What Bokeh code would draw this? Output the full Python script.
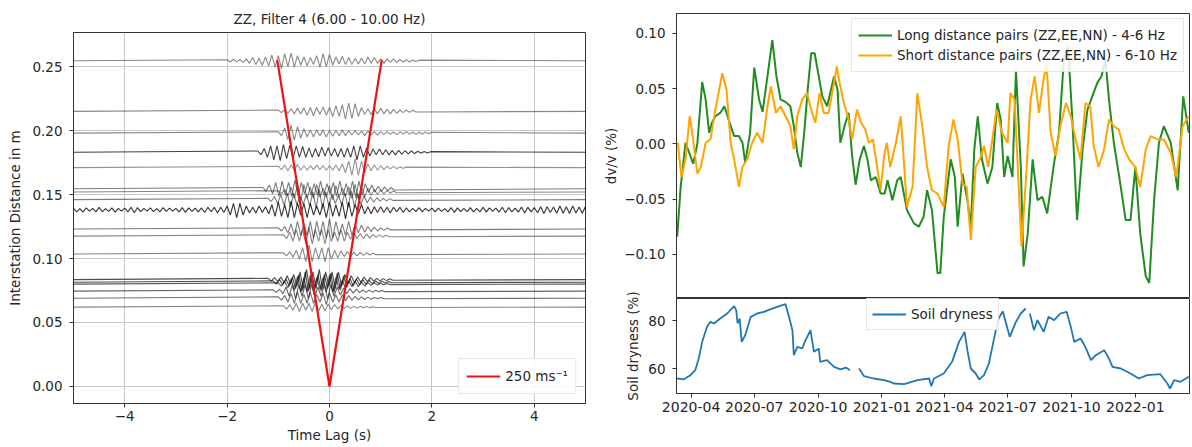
import numpy as np
import pandas as pd
from bokeh.plotting import figure
from bokeh.layouts import row, column
from bokeh.models import (ColumnDataSource, Range1d, FixedTicker, CustomJSTickFormatter,
                          DatetimeTickFormatter, Legend, LegendItem)
from bokeh.embed import file_html
from bokeh.resources import INLINE

FONT = "DejaVu Sans"

# ---------------- Left panel: cross-correlation traces ----------------
TITLE_LEFT = "ZZ, Filter 4 (6.00 - 10.00 Hz)"
X_LABEL_LEFT = "Time Lag (s)"
Y_LABEL_LEFT = "Interstation Distance in m"
TIME_WINDOW = [-5.0, 5.0]
SAMPLE_DT = 0.0625          # s between samples
AMP_UNIT = 0.001            # sample amplitude unit (m)
X_TICKS_LEFT = [-4, -2, 0, 2, 4]
Y_TICKS_LEFT = [0.0, 0.05, 0.10, 0.15, 0.20, 0.25]

TRACE_DIST = [0.2545, 0.215, 0.198, 0.183, 0.171, 0.1545, 0.152, 0.146, 0.138,
              0.123, 0.1175, 0.1035, 0.0835, 0.0815, 0.080, 0.0745, 0.069, 0.062]
TRACE_START = [-2.0, -1.0, -1.0, -1.4, -1.0, -1.3, -1.0, -1.2, -5.0,
               -1.0, -0.9, -0.9, -1.2, -1.1, -1.0, -1.1, -1.0, -0.9]

TR_A = [0.8, -1, 1.2, -0.9, 1, -1.2, 1.5, -2, 2.5, -3, 2, -3.5, 3, -4, 4.5, -5, 4, -6, 5.5, -4.5,
        6, -5, 4, -3.5, 3, -4, 2.5, -3, 4, -5, 5.5, -4.5, 5, -3.5, 3, -2.5, 3.5, -3, 2.5, -3,
        2, -2.5, 2, -2.5, 3, -2, 2.5, -2, 1.5, -2, 1.5, -1, 1.5, -1.2, 1, -1, 0.8, -1, 0.6, -0.5, 0.5]
TR_B = [1, -1, 1.5, -1.5, 2, -2, 2.5, -2, 2.5, -3, 3, -3.5, 3, -2.5, 3.5, -3, 3, -4, 4.5, -4,
        5, -6, 6.5, -5.5, 6, -4, 3, -2.5, 2, -2.5, 2, -2, 2.5, -2, 1.5, -2, 1.5, -1.5, 1, -1,
        1, -0.8, 0.8, -0.5]
TR_C = [1, -2, 4, -5, 6, -5.5, 5, -4, 3.5, -3, 2.5, -3, 2.5, -2, 2.5, -3, 2, -2.5, 2, -2,
        2.5, -2, 2, -1.5, 2, -1.5, 1.5, -2, 1.5, -1.5, 1.2, -1.5, 1.2, -1, 1.2, -1, 1, -1.2, 1, -0.8,
        1, -0.8, 0.8, -1, 0.8, -0.7, 0.8, -0.6, 0.6]
TR_D = [1, -2, 3, -4, 5, -6, 5, -6.5, 6, -5, 5.5, -4.5, 5, -4, 4.5, -4, 3.5, -4, 3, -3.5,
        4, -3, 3.5, -3, 3, -3.5, 3, -4, 3.5, -4, 5, -6, 5, -4, 3.5, -3, 2.5, -2, 2.5, -2,
        2, -2, 1.5, -2, 1.5, -1.5, 1.2, -1.2, 1, -1, 0.8, -0.8, 0.6, -0.5, 0.5]
TR_E = [1, -1.5, 2, -2.5, 2, -2, 2.5, -2, 1.5, -2, 1.5, -1.5, 2, -1.5, 1.5, -2, 1.5, -2, 2, -2.5,
        3, -4, 5, -6, 7, -6, 5, -4, 3, -2.5, 2, -2, 1.5, -1.5, 1.2, -1, 1, -0.8, 0.6, -0.5, 0.4]
TR_F = [1, -2, 3, -4, 5, -6, 6, -5, 5, -6, 7, -6, 5, -4, 5, -5, 4, -5, 6, -5,
        4, -4, 5, -6, 6, -5, 4, -5, 6, -7, 6, -5, 4, -3, 3, -2.5, 2, -2, 1.5, -1.5, 1, -1]
TR_G = [1, -1.5, 2, -3, 4, -5, 6, -7, 6, -5, 4, -5, 6, -4, 3, -4, 5, -6, 5, -4,
        3, -3, 4, -5, 6, -6, 5, -4, 3, -2.5, 2, -2, 1.5, -1.5, 1, -1, 0.8, -0.6]
TR_H = [1, -1.5, 2.5, -3, 4, -4.5, 5, -6, 5, -4, 3, -3.5, 4, -5, 6, -7, 8, -7, 6, -5,
        4, -3, 3, -4, 5, -6, 7, -6, 5, -4, 3, -2.5, 2, -2, 1.5, -1.2, 1, -1, 0.8, -0.6]
TR_I = [1.2, -1.5, 1, -1.8, 1.5, -1, 1.2, -1.6, 2, -1.5, 1, -1.2, 1.5, -1.8, 1.2, -1, 1.4, -1.6, 2, -2.2,
        1.8, -1.4, 1.2, -1, 1.5, -1.3, 1, -1.6, 1.8, -1.2, 1.4, -1, 1.2, -1.5, 1.8, -2, 1.6, -1.2, 1.4, -1.6,
        1.5, -2, 2, -1.5, 2, -2.5, 2, -2, 3, -4, 5, -6, 5, -4, 3, -2.5, 2, -2.5, 3, -2, 2.5,
        -3, 4, -5, 6, -5, 4, -6, 7, -6, 5, -4, 5, -6, 5, -4, 3, -4, 5, -6, 6,
        -5, 4, -5, 6, -7, 6, -5, 4, -3, 4, -3, 2.5,
        -3, 2.5, -2, 2.5, -2, 2, -2.5, 2, -1.5, 2, -2, 1.5,
        -1.5, 1.2, -1.4, 1.8, -1.5, 1.2, -1, 1.3, -1.6, 1.4, -1.2, 1, -1.5, 1.8, -2, 1.6, -1.3, 1.1, -1.4, 1.7,
        -1.5, 1.2, -1.6, 2, -1.8, 1.5, -1.2, 1.4, -1.7, 2, -2.2, 1.8, -1.5, 1.3, -1.8, 2.2, -2.5, 2, -1.6, 1.8,
        -2.2, 2.5, -2.8, 2.4, -2, 2.2, -2.6, 3, -2.7, 2.4, -2.8, 3, -2.5, 2.2, -2.6, 2.8]
TR_J = [1, -1.5, 2, -3, 4, -5, 6, -5, 4, -5, 6, -7, 6, -5, 6, -7, 8, -7, 6, -5,
        4, -5, 6, -5, 4, -3, 3, -2.5, 2, -2, 1.5, -1.5, 1, -1, 0.8, -0.6]
TR_K = [1, -2, 3, -4, 5, -4, 5, -6, 7, -6, 5, -4, 5, -6, 5, -4, 3, -4, 5, -4,
        3, -2.5, 3, -2, 2, -2, 1.5, -1.5, 1.2, -1, 1, -0.8, 0.6, -0.5]
TR_L = [1, -1.5, 2, -2.5, 3, -4, 5, -6, 7, -6, 5, -4, 5, -6, 5, -4, 3, -3, 2.5, -2,
        2, -2, 1.5, -1.5, 1.2, -1, 1, -0.8, 0.6, -0.5]
TR_M = [1, -1, 1.5, -1.5, 2, -2.5, 3, -3.5, 4, -5, 6, -7, 8, -7, 6, -7, 8, -7, 6, -5,
        6, -7, 6, -5, 4, -3, 3, -2.5, 2, -2, 2, -1.5, 1.5, -1.2, 1, -1, 0.8, -0.8, 0.6, -0.5]
TR_N = [1, -1.5, 2, -2, 2.5, -3, 4, -5, 6, -7, 8, -7, 6, -5, 6, -7, 6, -5, 7, -8,
        7, -6, 5, -4, 3, -3, 2.5, -2, 2, -1.5, 1.5, -1.2, 1, -1, 0.8, -0.6, 0.5, -0.4]
TR_O = [1, -1.5, 2, -3, 4, -5, 6, -6, 5, -6, 7, -6, 5, -4, 5, -6, 7, -6, 5, -4,
        3, -3, 2.5, -2, 2, -2, 1.5, -1.5, 1.2, -1, 1, -0.8, 0.6, -0.6, 0.5, -0.4]
TR_P = [1, -1, 1.5, -2, 3, -4, 5, -6, 5, -4, 5, -6, 5, -4, 3, -4, 5, -6, 5, -4,
        3, -3, 2.5, -2, 2, -1.5, 1.5, -1.2, 1, -1, 0.8, -0.8, 0.6, -0.5, 0.5, -0.4]
TR_Q = [1, -1.5, 2, -3, 3.5, -4, 5, -4, 3, -4, 5, -4, 3, -3, 4, -5, 4, -3, 2.5, -3,
        2.5, -2, 2, -1.5, 1.5, -1.2, 1, -1, 0.8, -0.8, 0.6, -0.5, 0.5, -0.4]
TR_R = [1, -1.5, 2, -2.5, 3, -3.5, 3, -2.5, 3, -3.5, 4, -3, 2.5, -3, 2.5, -2, 2, -1.5, 1.5, -1.2,
        1, -1, 0.8, -0.8, 0.6, -0.5, 0.5, -0.4, 0.3, -0.3]
TRACE_SAMPLES = [TR_A, TR_B, TR_C, TR_D, TR_E, TR_F, TR_G, TR_H, TR_I,
                 TR_J, TR_K, TR_L, TR_M, TR_N, TR_O, TR_P, TR_Q, TR_R]

V_LINE_T = [-1.02, 0.0, 1.02]
V_LINE_D = [0.255, 0.0, 0.255]
V_LABEL = "250 ms\u207b\u00b9"

# ---------------- Right panels: dv/v and soil dryness ----------------
BASE_DATE = "2020-03-11"
X_END_DATE = "2022-03-20"
DATE_TICKS = ["2020-04", "2020-07", "2020-10", "2021-01", "2021-04", "2021-07", "2021-10", "2022-01"]
Y_LABEL_DVV = "dv/v (%)"
Y_LABEL_SOIL = "Soil dryness (%)"
DVV_TICKS = [-0.10, -0.05, 0.0, 0.05, 0.10]
SOIL_TICKS = [60, 80]
LABEL_LONG = "Long distance pairs (ZZ,EE,NN) - 4-6 Hz"
LABEL_SHORT = "Short distance pairs (ZZ,EE,NN) - 6-10 Hz"
LABEL_SOIL = "Soil dryness"

GREEN_DAY = [1, 6, 13, 20, 24, 30, 37, 42, 47, 51, 56, 63, 69, 75, 83, 90, 95, 99, 106, 112,
             119, 124, 131, 138, 144, 150, 157, 164, 169, 174, 179, 184, 189, 194, 199, 205, 210, 217, 227, 232,
             236, 242, 248, 253, 258, 264, 270, 275, 280, 287, 294, 300, 304, 311, 318, 323, 332, 342, 349, 356,
             361, 368, 376, 380, 385, 395, 401, 405, 412, 419, 424, 429, 434, 440, 448, 455, 462, 467, 472, 477,
             484, 489, 496, 500, 506, 513, 520, 527, 534, 544, 551, 558, 564, 570, 577, 585, 592, 599, 606, 612,
             618, 623, 630, 640, 647, 654, 661, 668, 676, 681, 688, 695, 702, 712, 722, 730, 738]
GREEN_DVV = [-0.084, -0.039, 0.001, -0.011, -0.018, 0.0, 0.056, 0.040, 0.010, 0.019,
             0.025, 0.028, 0.034, 0.022, 0.007, 0.007, 0.001, -0.017, 0.010, 0.069,
             0.040, 0.029, 0.061, 0.094, 0.061, 0.040, 0.038, 0.034, 0.016, -0.008,
             -0.021, 0.010, 0.049, 0.082, 0.082, 0.061, 0.043, 0.034, 0.061, 0.049,
             0.001, 0.016, 0.028, -0.011, -0.037, -0.014, -0.002, -0.014, -0.033, -0.030,
             -0.045, -0.045, -0.033, -0.051, -0.033, -0.030, -0.060, -0.072, -0.075, -0.066,
             -0.042, -0.060, -0.117, -0.117, -0.066, -0.014, -0.030, -0.075, -0.027, -0.051,
             -0.075, -0.005, 0.025, -0.014, -0.036, -0.021, 0.037, 0.022, -0.030, -0.011,
             -0.030, 0.067, -0.021, -0.111, -0.081, -0.014, -0.051, -0.048, -0.063, -0.017,
             0.010, 0.076, 0.088, 0.025, -0.069, -0.005, 0.031, 0.043, 0.055, 0.061,
             0.076, 0.040, 0.001, -0.039, -0.069, -0.069, -0.021, -0.081, -0.120, -0.126,
             -0.051, 0.001, 0.016, 0.001, -0.042, 0.043, 0.010]

ORANGE_DAY = [2, 7, 13, 19, 24, 30, 35, 42, 49, 56, 66, 72, 78, 83, 90, 95, 102, 109, 116, 124,
              131, 136, 143, 150, 157, 164, 169, 174, 181, 188, 194, 200, 206, 212, 219, 226, 231, 235, 241, 247,
              253, 260, 266, 272, 277, 283, 289, 294, 299, 303, 308, 316, 323, 332, 340, 347, 354, 361, 368, 376,
              385, 392, 399, 405, 412, 418, 424, 431, 437, 443, 449, 455, 461, 469, 477, 481, 487, 493, 497, 503,
              510, 516, 522, 528, 533, 539, 546, 553, 561, 568, 575, 582, 589, 596, 601, 608, 616, 623, 630, 637,
              645, 652, 661, 668, 676, 683, 693, 702, 712, 720, 729, 738]
ORANGE_DVV = [0.001, -0.030, -0.014, 0.025, 0.004, -0.027, -0.021, 0.001, 0.004, 0.031,
              0.064, 0.049, 0.001, -0.014, -0.039, -0.021, -0.014, 0.001, 0.010, 0.001,
              0.034, 0.052, 0.028, 0.034, 0.025, 0.016, -0.005, 0.025, 0.040, 0.046,
              0.031, 0.019, 0.046, 0.028, 0.028, 0.052, 0.070, 0.055, 0.037, 0.025,
              0.004, 0.031, 0.019, 0.013, 0.001, 0.004, -0.021, -0.042, -0.011, 0.001,
              -0.021, 0.001, 0.025, -0.057, -0.039, 0.046, 0.016, -0.021, -0.042, -0.045,
              -0.057, -0.002, 0.022, 0.004, -0.036, -0.039, -0.087, -0.021, -0.014, -0.002,
              -0.021, 0.004, 0.031, 0.010, 0.001, 0.046, 0.040, -0.039, -0.093, -0.036,
              0.040, 0.061, 0.028, 0.055, 0.073, 0.010, -0.011, 0.016, 0.037, 0.025,
              0.004, -0.014, 0.037, 0.034, -0.002, -0.021, -0.005, 0.022, 0.016, 0.013,
              -0.005, -0.014, -0.021, -0.039, -0.005, 0.007, 0.004, 0.004, -0.008, -0.030,
              0.016, 0.025]

nan = float("nan")
SOIL_DAY = [1, 10, 20, 27, 32, 37, 44, 49, 54, 63, 73, 83, 86, 88, 91, 94, 99, 107, 116, 126,
            135, 145, 157, 162, 167, 169, 174, 181, 186, 193, 198, 205, 207, 217, 227, 236, 244, 250, 254, 263,
            270, 284, 299, 308, 313, 328, 347, 364, 367, 371, 385, 397, 407, 415, 419, 424, 431, 436, 443, 450,
            455, 460, 464, 470, 480, 489, 496, 503, 505, 509, 515, 520, 529, 536, 544, 553, 562, 568, 573, 582,
            589, 597, 604, 616, 623, 628, 640, 654, 666, 678, 697, 707, 711, 717, 726, 738]
SOIL_PCT = [55.8, 55.4, 57.2, 59.3, 64.2, 71.2, 77.5, 79.6, 78.9, 81.0,
            83.1, 86.2, 84.5, 78.9, 81.0, 71.2, 74.0, 81.7, 83.1, 83.8,
            84.8, 85.9, 87.0, 81.7, 76.1, 65.6, 69.1, 68.4, 71.9, 76.1,
            67.0, 68.4, 62.8, 63.5, 60.7, 59.6, 60.4, 59.3, nan, 60.0,
            56.8, 55.8, 55.1, 54.4, 53.7, 53.4, 55.1, 55.8, 52.6, 55.8,
            57.9, 62.8, 71.2, 75.4, 67.7, 60.0, 57.9, 55.4, 57.2, 62.1,
            69.1, 76.1, 81.0, 84.0, 73.3, 79.6, 83.1, 85.2, nan, 83.1,
            76.1, 80.3, 75.4, 81.7, 80.3, 83.1, 83.8, 77.5, 71.2, 72.6,
            69.1, 63.5, 65.6, 67.7, 64.2, 60.7, 60.0, 57.9, 55.8, 57.2,
            57.6, 53.7, 51.6, 55.1, 54.4, 56.5]

# ---------------- styles ----------------
TRACE_ALPHA = [0.5, 0.5, 0.5, 0.8, 0.45, 0.55, 0.5, 0.55, 0.85,
               0.55, 0.5, 0.5, 0.75, 0.75, 0.7, 0.65, 0.6, 0.5]
TEXT_COLOR = "#262626"
FRAME_COLOR = "#333333"


def signed_fmt(decimals):
    return CustomJSTickFormatter(code=f"""
        const s = Math.abs(tick).toFixed({decimals});
        return (tick < -1e-9 ? "\\u2212" : "") + s;
    """)


def style(p):
    p.outline_line_color = FRAME_COLOR
    p.outline_line_width = 1
    p.outline_line_alpha = 1
    p.background_fill_color = "white"
    p.border_fill_color = "white"
    for ax in p.axis:
        ax.axis_line_color = FRAME_COLOR
        ax.major_tick_line_color = FRAME_COLOR
        ax.minor_tick_line_color = None
        ax.major_tick_out = 4
        ax.major_tick_in = 0
        ax.major_label_text_font = FONT
        ax.major_label_text_font_size = "13.5px"
        ax.major_label_text_color = TEXT_COLOR
        ax.axis_label_text_font = FONT
        ax.axis_label_text_font_size = "13.5px"
        ax.axis_label_text_font_style = "normal"
        ax.axis_label_text_color = TEXT_COLOR
        ax.major_label_standoff = 3
        ax.axis_label_standoff = 4


# ---------------- Left figure ----------------
p1 = figure(width=600, height=447, x_range=Range1d(-5, 5), y_range=Range1d(-0.0133, 0.2766),
            output_backend="svg", toolbar_location=None,
            min_border_left=73, min_border_right=15, min_border_top=32, min_border_bottom=44)
style(p1)
p1.title.text = TITLE_LEFT
p1.title.align = "center"
p1.title.vertical_align = "top"
p1.title.text_font = FONT
p1.title.text_font_size = "13.5px"
p1.title.text_font_style = "normal"
p1.title.text_color = TEXT_COLOR
p1.title.standoff = 8
p1.xaxis.axis_label = X_LABEL_LEFT
p1.yaxis.axis_label = Y_LABEL_LEFT
p1.xaxis.ticker = FixedTicker(ticks=X_TICKS_LEFT)
p1.yaxis.ticker = FixedTicker(ticks=Y_TICKS_LEFT)
p1.xaxis.formatter = signed_fmt(0)
p1.yaxis.formatter = signed_fmt(2)
p1.grid.grid_line_color = "#c8c8c8"
p1.grid.grid_line_width = 1
p1.xaxis.axis_label_standoff = 3
p1.xaxis.major_label_standoff = 3
p1.yaxis.major_label_standoff = 7
p1.yaxis.axis_label_standoff = 6

xs, ys = [], []
for d, t0, samp in zip(TRACE_DIST, TRACE_START, TRACE_SAMPLES):
    a = np.asarray(samp, dtype=float) * AMP_UNIT
    t = t0 + SAMPLE_DT * np.arange(len(a))
    xs.append(np.concatenate([[TIME_WINDOW[0]], t, [TIME_WINDOW[1]]]).tolist())
    ys.append(np.concatenate([[d], d + a, [d]]).tolist())
trace_src = ColumnDataSource(dict(xs=xs, ys=ys, alpha=TRACE_ALPHA))
p1.multi_line("xs", "ys", source=trace_src, line_color="#111111", line_alpha="alpha", line_width=1.1)

p1.line(V_LINE_T, V_LINE_D, line_color="#ee1111", line_width=2.2, legend_label=V_LABEL)
lg1 = p1.legend[0]
lg1.location = "bottom_right"
lg1.margin = 9
lg1.padding = 7
lg1.spacing = 0
lg1.glyph_width = 34
lg1.label_text_font = FONT
lg1.label_text_font_size = "13.5px"
lg1.label_text_color = TEXT_COLOR
lg1.border_line_color = "#d0d0d0"
lg1.background_fill_alpha = 0.85

# ---------------- Right figures ----------------
base = pd.Timestamp(BASE_DATE)
green_dates = base + pd.to_timedelta(GREEN_DAY, unit="D")
orange_dates = base + pd.to_timedelta(ORANGE_DAY, unit="D")
soil_dates = base + pd.to_timedelta(SOIL_DAY, unit="D")
tick_ms = [pd.Timestamp(s + "-01").value / 1e6 for s in DATE_TICKS]

x_range = Range1d(start=base, end=pd.Timestamp(X_END_DATE))

p2 = figure(width=592, height=298, x_axis_type="datetime", x_range=x_range,
            y_range=Range1d(-0.140, 0.118), output_backend="svg", toolbar_location=None,
            min_border_left=76, min_border_right=3, min_border_top=13, min_border_bottom=0)
style(p2)
p2.xaxis.visible = False
p2.grid.grid_line_color = None
p2.yaxis.axis_label = Y_LABEL_DVV
p2.yaxis.ticker = FixedTicker(ticks=DVV_TICKS)
p2.yaxis.formatter = signed_fmt(2)
p2.yaxis.major_label_standoff = 7
p2.yaxis.axis_label_standoff = 2

rg = p2.line(green_dates, GREEN_DVV, line_color="#228b22", line_width=2)
ro = p2.line(orange_dates, ORANGE_DVV, line_color="#ffa500", line_width=2)
lg2 = Legend(items=[LegendItem(label=LABEL_LONG, renderers=[rg]),
                    LegendItem(label=LABEL_SHORT, renderers=[ro])],
             location="top_right")
lg2.margin = 5
lg2.padding = 6
lg2.spacing = 0
lg2.glyph_width = 34
lg2.label_text_font = FONT
lg2.label_text_font_size = "13.5px"
lg2.label_text_color = TEXT_COLOR
lg2.border_line_color = "#d0d0d0"
lg2.background_fill_alpha = 0.85
p2.add_layout(lg2, "center")

# bottom panel: canvas starts 14px above its frame and is pulled up over the
# (empty) bottom edge of the top panel so that its axis label is not clipped
p3 = figure(width=592, height=163, x_axis_type="datetime", x_range=x_range,
            y_range=Range1d(49.5, 89.4), output_backend="svg", toolbar_location=None,
            min_border_left=76, min_border_right=3, min_border_top=14, min_border_bottom=54)
style(p3)
p3.border_fill_color = None
p3.styles = {"margin-top": "-14px"}
p3.grid.grid_line_color = None
p3.yaxis.axis_label = Y_LABEL_SOIL
p3.yaxis.ticker = FixedTicker(ticks=SOIL_TICKS)
p3.yaxis.major_label_standoff = 7
p3.yaxis.axis_label_standoff = 4
p3.xaxis.ticker = FixedTicker(ticks=tick_ms)
p3.xaxis.formatter = DatetimeTickFormatter(days="%Y-%m", months="%Y-%m", years="%Y-%m",
                                           hours="%Y-%m", minutes="%Y-%m")
p3.xaxis.major_label_text_font_size = "14px"
p3.xaxis.major_label_standoff = 4
rs = p3.line(soil_dates, SOIL_PCT, line_color="#1f77b4", line_width=1.8)
lg3 = Legend(items=[LegendItem(label=LABEL_SOIL, renderers=[rs])], location=(190, 63))
lg3.padding = 5
lg3.spacing = 0
lg3.glyph_width = 34
lg3.label_text_font = FONT
lg3.label_text_font_size = "13.5px"
lg3.label_text_color = TEXT_COLOR
lg3.border_line_color = "#d0d0d0"
lg3.background_fill_alpha = 0.85
p3.add_layout(lg3, "center")

layout = row(p1, column(p2, p3))
open("out.html", "w").write(file_html(layout, INLINE))
